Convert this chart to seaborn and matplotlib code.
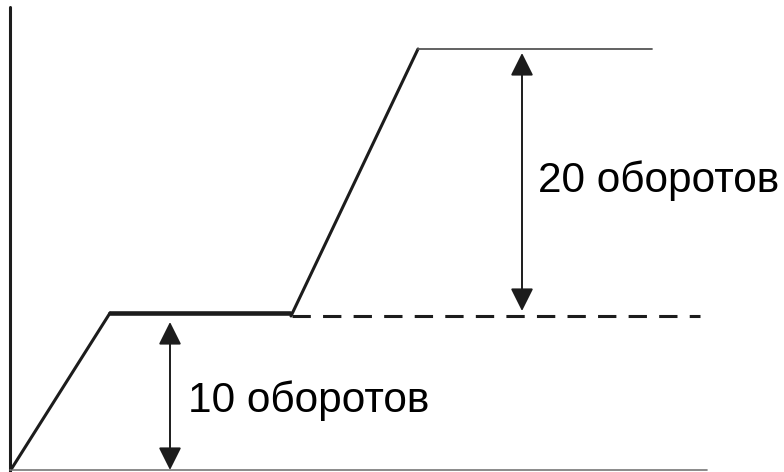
import matplotlib
matplotlib.use("Agg")
import matplotlib.pyplot as plt
import seaborn as sns

# Schematic drawn in pixel units of the original picture (y grows downward)
ramp1_x = [12, 110]
ramp1_y = [468, 313]
hold_x = [110, 290]
hold_y = [313, 313]
ramp2_x = [291, 418]
ramp2_y = [316, 49]
top_x = [418, 652]
top_y = [49, 49]
dashed_x = [292, 700]
dashed_y = [316, 316]
yaxis_x = [10, 10]
yaxis_y = [7, 472]
xaxis_x = [10, 707]
xaxis_y = [470, 470]

arrow_low = (170, 322, 470)   # x, top, bottom
arrow_high = (522, 53, 311)
label_low = "10 оборотов"
label_high = "20 оборотов"


def segment(ax, xs, ys, **kws) -> None:
    """One straight piece, no aggregation over repeated x."""
    sns.lineplot(x=xs, y=ys, ax=ax, sort=False, estimator=None, **kws)


def main() -> None:
    sns.set_theme(style="white")
    plt.rcParams["font.family"] = ["Liberation Sans", "DejaVu Sans"]

    fig = plt.figure(figsize=(7.84, 4.72), dpi=100)
    ax = fig.add_axes([0, 0, 1, 1])

    dark = "#1c1c1c"
    segment(ax, yaxis_x, yaxis_y, color=dark, lw=2.2)
    segment(ax, xaxis_x, xaxis_y, color="#777777", lw=1.2)
    segment(ax, ramp1_x, ramp1_y, color=dark, lw=2.2)
    segment(ax, hold_x, hold_y, color=dark, lw=3.3)
    segment(ax, ramp2_x, ramp2_y, color=dark, lw=2.2)
    segment(ax, top_x, top_y, color="#555555", lw=1.3)
    segment(ax, dashed_x, dashed_y, color=dark, lw=2.2, linestyle=(0, (6.0, 4.0)))

    for x, y0, y1 in (arrow_low, arrow_high):
        ax.annotate("", xy=(x, y0), xytext=(x, y1),
                    arrowprops=dict(arrowstyle="<|-|>,head_length=0.7,head_width=0.35",
                                    mutation_scale=20, color=dark, lw=1.4,
                                    shrinkA=0, shrinkB=0))

    ax.text(188, 412, label_low, fontsize=30.5, color="black", va="baseline", ha="left")
    ax.text(538, 192, label_high, fontsize=30.5, color="black", va="baseline", ha="left")

    ax.set_xlim(0, 784)
    ax.set_ylim(472, 0)
    ax.axis("off")

    fig.savefig("out.png", dpi=100, facecolor="white")


if __name__ == "__main__":
    main()
